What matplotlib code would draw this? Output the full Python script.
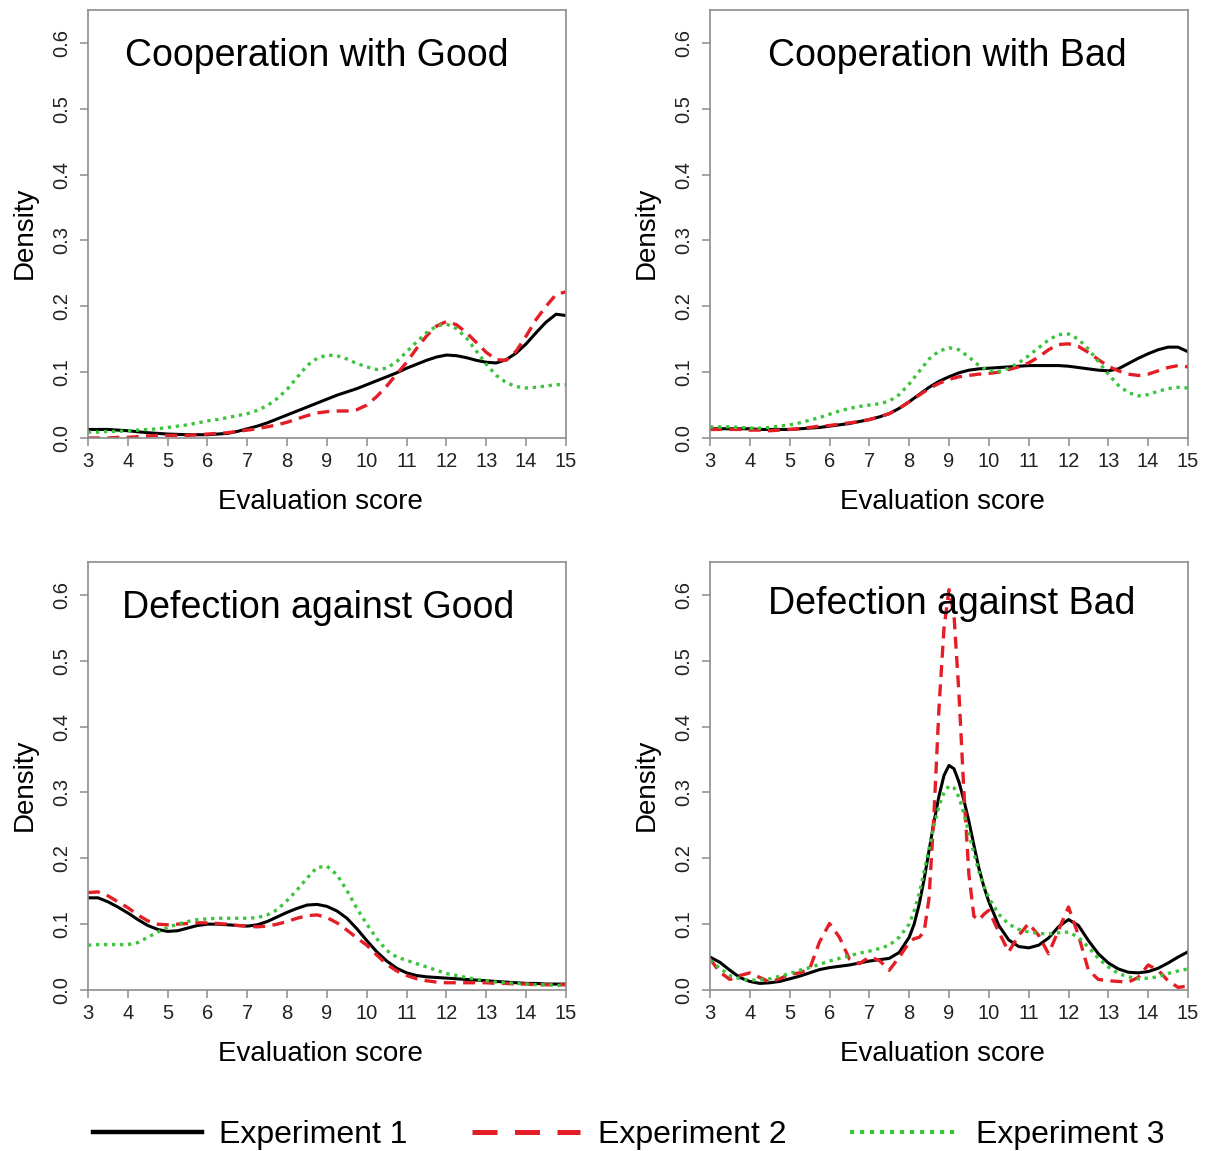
import numpy as np
import matplotlib.pyplot as plt
from matplotlib.lines import Line2D

plt.rcParams['font.family'] = ['Liberation Sans', 'DejaVu Sans']

# evaluation-score grid used for the smooth panels (3 .. 15, step 0.25)
x_grid = np.arange(3, 15.001, 0.25)
# finer sampling around the sharp peak in "Defection against Bad"
x_dab = np.concatenate([np.arange(3, 8, 0.25), np.arange(8, 10, 0.125), np.arange(10, 15.001, 0.25)])

titles = ['Cooperation with Good', 'Cooperation with Bad',
          'Defection against Good', 'Defection against Bad']
labels = ['Experiment 1', 'Experiment 2', 'Experiment 3']

# --- Cooperation with Good ---
cg_exp1 = [.013, .013, .013, .012, .011, .0095, .008, .007, .006, .0055, .005, .005, .005,
           .006, .007, .010, .014, .018, .023, .029, .035, .041, .047, .053, .059, .065,
           .070, .075, .081, .087, .093, .099, .106, .112, .118, .123, .126, .125, .122,
           .118, .115, .114, .119, .129, .143, .160, .176, .188, .186]
cg_exp2 = [.000, .000, .000, .001, .001, .002, .003, .004, .004, .004, .004, .005, .006,
           .007, .008, .010, .012, .014, .017, .020, .024, .029, .034, .038, .040, .041,
           .041, .043, .050, .063, .079, .097, .115, .136, .155, .170, .177, .172, .160,
           .145, .130, .119, .118, .132, .155, .180, .200, .218, .222]
cg_exp3 = [.009, .009, .010, .010, .011, .012, .013, .014, .016, .018, .020, .023, .026,
           .028, .031, .034, .037, .042, .049, .060, .074, .092, .110, .121, .126, .125,
           .120, .113, .108, .104, .106, .116, .131, .146, .160, .170, .173, .166, .152,
           .132, .112, .095, .084, .078, .076, .077, .079, .081, .081]

# --- Cooperation with Bad ---
cb_exp1 = [.014, .014, .014, .014, .014, .013, .013, .013, .013, .014, .015, .016, .018,
           .020, .022, .025, .028, .032, .037, .045, .055, .066, .077, .086, .093, .099,
           .103, .105, .106, .107, .108, .109, .110, .110, .110, .110, .109, .107, .105,
           .103, .102, .105, .113, .121, .128, .134, .138, .138, .131]
cb_exp2 = [.013, .013, .013, .013, .012, .012, .011, .012, .013, .014, .016, .018, .019,
           .021, .023, .025, .028, .032, .037, .045, .055, .065, .075, .083, .089, .093,
           .095, .097, .098, .100, .104, .108, .114, .123, .134, .142, .143, .139, .130,
           .119, .109, .102, .097, .095, .097, .102, .107, .110, .108]
cb_exp3 = [.017, .017, .017, .016, .015, .015, .016, .018, .020, .023, .027, .031, .036,
           .041, .045, .048, .050, .052, .056, .066, .082, .101, .120, .132, .137, .134,
           .123, .110, .102, .101, .106, .114, .125, .137, .149, .157, .158, .150, .135,
           .116, .097, .080, .069, .064, .066, .071, .075, .077, .076]

# --- Defection against Good ---
dg_exp1 = [.140, .140, .134, .126, .117, .107, .098, .092, .089, .090, .094, .098, .100,
           .100, .099, .098, .097, .099, .104, .111, .118, .124, .129, .130, .127, .120,
           .109, .093, .075, .058, .044, .033, .026, .022, .020, .019, .018, .017, .016,
           .015, .014, .013, .012, .011, .010, .010, .009, .009, .009]
dg_exp2 = [.148, .149, .143, .134, .125, .114, .105, .100, .099, .100, .101, .102, .102,
           .101, .100, .098, .097, .096, .097, .100, .104, .109, .113, .114, .110, .102,
           .091, .079, .068, .053, .039, .029, .022, .017, .014, .012, .011, .011, .011,
           .011, .011, .010, .010, .009, .009, .008, .008, .008, .008]
dg_exp3 = [.068, .069, .069, .069, .069, .072, .080, .088, .095, .100, .104, .107, .108,
           .109, .109, .109, .109, .110, .114, .122, .136, .152, .170, .186, .188, .175,
           .151, .124, .100, .078, .060, .050, .045, .040, .035, .030, .025, .022, .019,
           .016, .014, .012, .011, .010, .009, .008, .008, .007, .007]

# --- Defection against Bad (x_dab grid) ---
db_exp1 = [.050, .042, .030, .019, .013, .010, .011, .013, .017, .021, .026, .031, .034,
           .036, .038, .041, .044, .046, .048, .057,
           .080, .100, .130, .168, .212, .256, .295, .326, .341, .336, .316, .288, .256,
           .220, .185, .157,
           .134, .098, .076, .066, .064, .068, .079, .096, .107, .098, .075, .055, .041,
           .032, .027, .026, .028, .033, .041, .050, .058]
db_exp2 = [.047, .027, .016, .022, .026, .019, .012, .017, .024, .026, .032, .073, .101,
           .080, .047, .040, .050, .045, .030, .050,
           .072, .078, .080, .088, .140, .270, .430, .550, .608, .570, .450, .300, .175,
           .112, .106, .115,
           .121, .088, .058, .083, .101, .083, .055, .091, .126, .083, .030, .016, .014,
           .013, .012, .019, .038, .030, .014, .004, .006]
db_exp3 = [.045, .033, .022, .017, .015, .015, .017, .021, .025, .030, .034, .039, .044,
           .048, .052, .056, .059, .063, .068, .080,
           .100, .120, .146, .180, .215, .250, .280, .300, .310, .307, .293, .268, .238,
           .208, .180, .158,
           .140, .115, .100, .092, .088, .086, .085, .087, .088, .080, .065, .048, .035,
           .025, .020, .017, .018, .020, .025, .029, .032]

panels = [
    (x_grid, [cg_exp1, cg_exp2, cg_exp3]),
    (x_grid, [cb_exp1, cb_exp2, cb_exp3]),
    (x_grid, [dg_exp1, dg_exp2, dg_exp3]),
    (x_dab, [db_exp1, db_exp2, db_exp3]),
]

styles = [
    dict(color='black', lw=2.2, ls='-'),
    dict(color='#E41E26', lw=2.4, ls=(0, (3.6, 2.2))),
    dict(color='#3DC43D', lw=2.4, ls=(0, (1.0, 1.4))),
]

frame = '#8C8C8C'
fig = plt.figure(figsize=(12.05, 11.51), dpi=100)

lefts = [88 / 1205, 710 / 1205]
bottoms = [1 - 438 / 1151, 1 - 990 / 1151]
w, h = 478 / 1205, 428 / 1151
title_x = [0.479, 0.496, 0.481, 0.506]
title_y = [0.893, 0.893, 0.893, 0.902]

for k, (xs, series) in enumerate(panels):
    ax = fig.add_axes([lefts[k % 2], bottoms[k // 2], w, h])
    for ys, st in zip(series, styles):
        ax.plot(xs, ys, **st)
    ax.set_xlim(3, 15)
    ax.set_ylim(0, 0.65)
    ax.set_xticks(range(3, 16))
    ax.set_yticks(np.arange(0, 0.61, 0.1))
    ax.set_yticklabels([f'{v:.1f}' for v in np.arange(0, 0.61, 0.1)],
                       rotation=90, va='center')
    ax.tick_params(direction='out', length=6, width=1.1, color=frame,
                   labelsize=14.5, labelcolor='#222222')
    ax.tick_params(axis='y', pad=6)
    ax.tick_params(axis='x', pad=4)
    for sp in ax.spines.values():
        sp.set_color(frame)
        sp.set_linewidth(1.2)
    ax.set_xlabel('Evaluation score', fontsize=20)
    ax.set_ylabel('Density', fontsize=20)
    ax.xaxis.set_label_coords(0.487, -0.12)
    ax.yaxis.set_label_coords(-0.105, 0.48)
    ax.text(title_x[k], title_y[k], titles[k], transform=ax.transAxes,
            ha='center', va='center', fontsize=27)

handles = [Line2D([], [], **st) for st in styles]
handles[0].set_linewidth(3.2)
handles[1].set_linewidth(3.6)
handles[1].set_linestyle((0, (5, 3.5)))
handles[2].set_linewidth(3.0)
fig.legend(handles, labels, ncol=3, loc='center', frameon=False,
           bbox_to_anchor=(0.522, 1 - 1135 / 1151), fontsize=23,
           handlelength=3.4, handletextpad=0.55, columnspacing=2.0)

fig.savefig('out.png', dpi=100, facecolor='white')
